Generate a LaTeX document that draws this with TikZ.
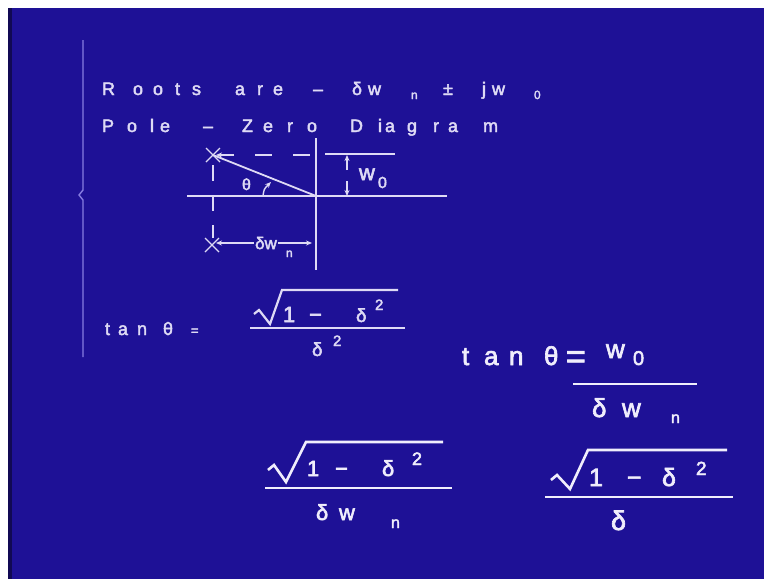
\documentclass[tikz,border=0pt]{standalone}
\usepackage{fontspec}
\setmainfont[FakeBold=2.5]{Liberation Sans}
\usetikzlibrary{arrows.meta}
\definecolor{bg}{RGB}{30,17,150}
\definecolor{fg}{RGB}{222,218,245}
\definecolor{fgb}{RGB}{240,238,252}
\definecolor{brc}{RGB}{135,125,225}
\tikzset{
  gl/.style={inner sep=0pt, outer sep=0pt, anchor=base west, text=fg},
  fs/.style={gl, font=\fontsize{#1}{#1}\selectfont},
  fb/.style={gl, text=fgb, font=\fontsize{#1}{#1}\selectfont},
  ln/.style={draw=fg, line width=1.8pt},
  bar/.style={draw=fgb, line width=2.8pt},
  tipe/.style={-{Stealth[length=6pt,width=5pt]}},
  both/.style={{Stealth[length=6pt,width=5pt]}-{Stealth[length=6pt,width=5pt]}},
  dsh/.style={ln, dash pattern=on 17pt off 21pt},
  vdsh/.style={ln, dash pattern=on 16pt off 14pt}
}
\begin{document}
\begin{tikzpicture}[x=1pt,y=-1pt]
\useasboundingbox (0,0) rectangle (764,579);
\fill[white] (0,0) rectangle (764,579);
\fill[bg] (8,8) rectangle (764,579);
\fill[bg!55!black] (8,8) rectangle (12,579);
% left brace line
\draw[brc, line width=1.4pt] (83,40) -- (83,190) -- (79,195) -- (83,200) -- (83,357);
% line 1
\foreach \x/\g [count=\i] in {102/R,133/o,153/o,175/t,192/s,235/a,257/r,273/e,313/–,352/δ,368/w,443/±,482/j,492/w}
  \node[fs=18] (ra\i) at (\x,95) {\g};
\node[fs=12] (ran) at (411,99) {n};
\node[fs=12] (ra0) at (534,99) {0};
% line 2
\foreach \x/\g [count=\i] in {102/P,127/o,150/l,160/e,203/–,242/Z,263/e,287/r,307/o,350/D,378/i,385/a,407/g,433/r,448/a,483/m}
  \node[fs=18] (pz\i) at (\x,132) {\g};
% pole-zero diagram
\coordinate (P1) at (213,155);
\coordinate (P2) at (212,245);
\coordinate (O) at (316,196);
\draw[ln] (187,196) -- (447,196);
\draw[ln] (316,138) -- (316,270);
\foreach \p in {P1,P2}
  \draw[ln, line width=1.3pt] ([shift={(-7,-7)}]\p) -- ([shift={(7,7)}]\p)
                              ([shift={(-7,7)}]\p) -- ([shift={(7,-7)}]\p);
\draw[ln] (P1) -- (O);
\draw[ln, tipe] (234,155) -- (216,155);
\draw[dsh] (255,155) -- (310,155);
\draw[vdsh] (213,165) -- (213,238);
\draw[ln] (325,154) -- (395,154);
\draw[ln, tipe] (347,170) -- (347,155);
\draw[ln, tipe] (347,181) -- (347,196);
\node[fs=22] (w0w) at (359,180) {w};
\node[fs=16] (w0n) at (378,188) {0};
\node[fs=16] (th) at (242,190) {θ};
\draw[ln, line width=1.4pt, tipe] (263,196) .. controls (264,189) .. (271,182);
\draw[ln, both] (216,243) -- (312,243);
\node[fs=17, fill=bg, inner sep=1pt, anchor=center] (dwl) at (266,243) {δw};
\node[fs=12] (dwn) at (286,257) {n};
% tan theta (left)
\foreach \x/\g [count=\i] in {105/t,118/a,137/n,163/θ}
  \node[fs=18] (tl\i) at (\x,335) {\g};
\node[fs=13] (tleq) at (191,335) {=};
\draw[ln, line width=2.2pt] (254,314) -- (259,310) -- (270,324) -- (282,290) -- (398,290);
\node[fs=22] (tn1) at (283,322) {1};
\node[fs=22] (tn2) at (309,322) {−};
\node[fs=19] (tn3) at (356,322) {δ};
\node[fs=15] (tn4) at (375,310) {2};
\draw[ln, line width=2.4pt] (250,328) -- (405,328);
\node[fs=19] (td1) at (312,356) {δ};
\node[fs=15] (td2) at (333,346) {2};
% tan theta (right)
\foreach \x/\g [count=\i] in {462/t,484/a,509/n,544/θ}
  \node[fb=26] (tr\i) at (\x,365) {\g};
\node[fb=34] (treq) at (566,368) {=};
\node[fb=26] (trw) at (606,358) {w};
\node[fb=20] (tr0) at (633,365) {0};
\draw[bar] (573,384) -- (697,384);
\node[fb=26] (trd1) at (592,417) {δ};
\node[fb=26] (trd2) at (622,417) {w};
\node[fb=16] (trd3) at (671,423) {n};
% bottom-left fraction
\draw[draw=fgb, line width=2.6pt] (268,470) -- (274,465) -- (286,482) -- (306,442) -- (443,442);
\node[fb=22] (bl1) at (307,476) {1};
\node[fb=22] (bl2) at (335,476) {−};
\node[fb=22] (bl3) at (382,476) {δ};
\node[fb=18] (bl4) at (412,465) {2};
\draw[bar] (265,488) -- (452,488);
\node[fb=22] (bld1) at (316,520) {δ};
\node[fb=22] (bld2) at (339,520) {w};
\node[fb=16] (bld3) at (391,528) {n};
% bottom-right fraction
\draw[draw=fgb, line width=2.6pt] (551,480) -- (557,475) -- (570,489) -- (588,450) -- (727,450);
\node[fb=25] (br1) at (589,486) {1};
\node[fb=25] (br2) at (627,486) {−};
\node[fb=25] (br3) at (662,486) {δ};
\node[fb=19] (br4) at (696,475) {2};
\draw[bar] (545,497) -- (733,497);
\node[fb=27] (brd1) at (611,530) {δ};
\end{tikzpicture}
\end{document}
